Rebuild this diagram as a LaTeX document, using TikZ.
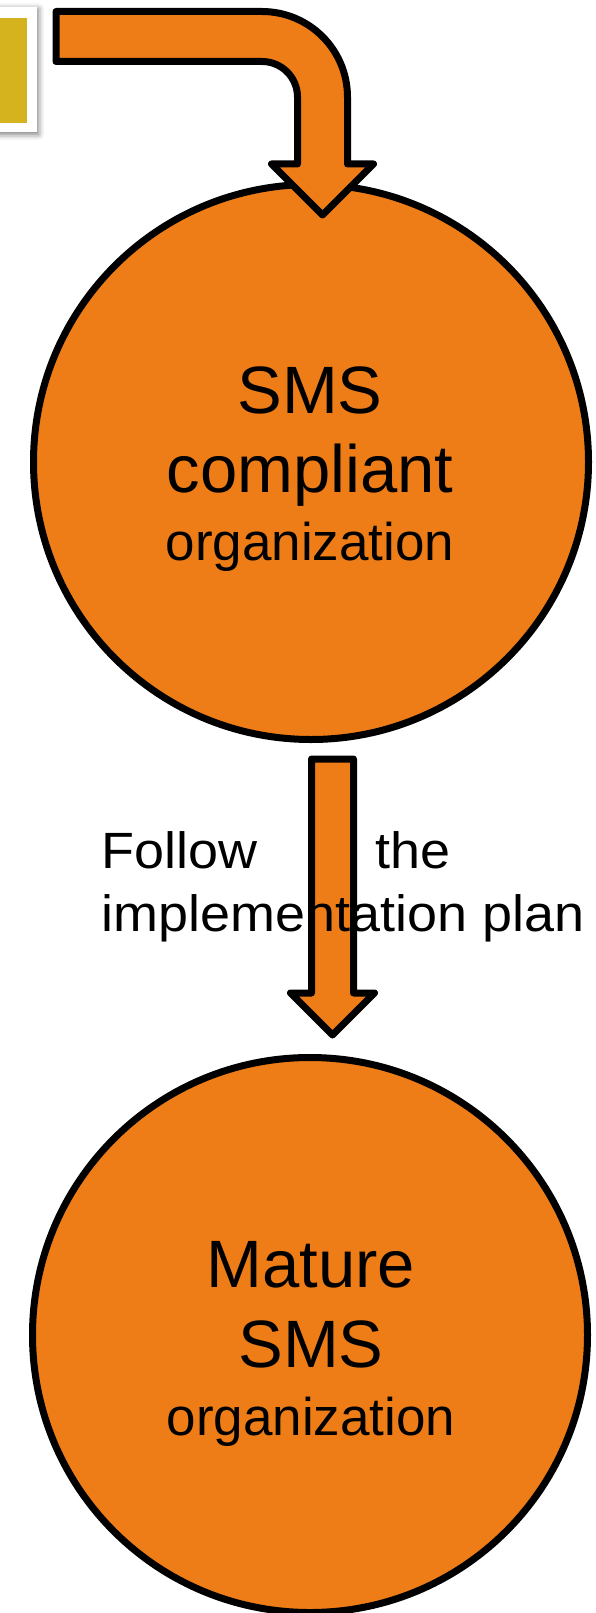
\documentclass[tikz,border=0pt]{standalone}
\usepackage{fontspec}
\setmainfont{Liberation Sans}
\newfontfamily\wideLabel[FakeStretch=1.058]{Liberation Sans}
\usetikzlibrary{shadows.blur}
\definecolor{kOrange}{HTML}{EE7D17}
\definecolor{kYellow}{HTML}{D5B31F}
\tikzset{
  bigcirc/.style={circle, draw=black, line width=7pt, fill=kOrange, minimum size=555pt, inner sep=0pt},
  blockarrow/.style={draw=black, fill=kOrange, line width=7pt, line join=round},
  circtext/.style={inner sep=0pt, anchor=base},
}
\begin{document}
\begin{tikzpicture}[x=1pt, y=-1pt]
\useasboundingbox (0,0) rectangle (595,1613);
% partially visible box at top left
\node[draw=none, fill=white, minimum width=60pt, minimum height=125pt, anchor=north east, inner sep=0pt,
      blur shadow={shadow xshift=1.5pt, shadow yshift=-2pt, shadow blur radius=6pt, shadow opacity=55}] (src) at (37,7) {};
\node[fill=kYellow, minimum width=50pt, minimum height=105pt, anchor=north east, inner sep=0pt] (srcin) at (27,18) {};
% circles
\node[bigcirc] (c1) at (311,462) {};
\node[bigcirc] (c2) at (310,1335) {};
% top bent arrow
\coordinate (a1start) at (56,11.5);
\draw[blockarrow] (a1start) -- (262,11.5) arc[start angle=-90, end angle=0, radius=85.5]
  -- (347.5,164) -- (373.5,164) -- (322.5,215) coordinate (a1tip) -- (271.5,164) -- (297.5,164)
  -- (297.5,97) arc[start angle=0, end angle=-90, radius=35.5] -- (56,61.5) -- cycle;
% middle arrow
\draw[blockarrow] (311.5,759) -- (353.5,759) -- (353.5,993) -- (374.5,993) -- (332.5,1035) coordinate (a2tip)
  -- (290.5,993) -- (311.5,993) -- cycle;
% middle label
\node[inner sep=0pt, anchor=base west] (lbl) at (101.5,868) {\parbox[t]{348.5pt}{\wideLabel\fontsize{51}{63.5}\selectfont
  Follow\hfill the\\
  \mbox{implementation plan}}};
% circle texts
\node[circtext] (t1) at (310,413) {\parbox[t]{420pt}{\centering
  \fontsize{67}{79}\selectfont SMS\par
  compliant\par
  \fontsize{53}{68}\selectfont organization\par}};
\node[circtext] (t2) at (311,1287) {\parbox[t]{420pt}{\centering
  \fontsize{67}{80}\selectfont Mature\par
  SMS\par
  \fontsize{53}{68}\selectfont organization\par}};
\end{tikzpicture}
\end{document}
